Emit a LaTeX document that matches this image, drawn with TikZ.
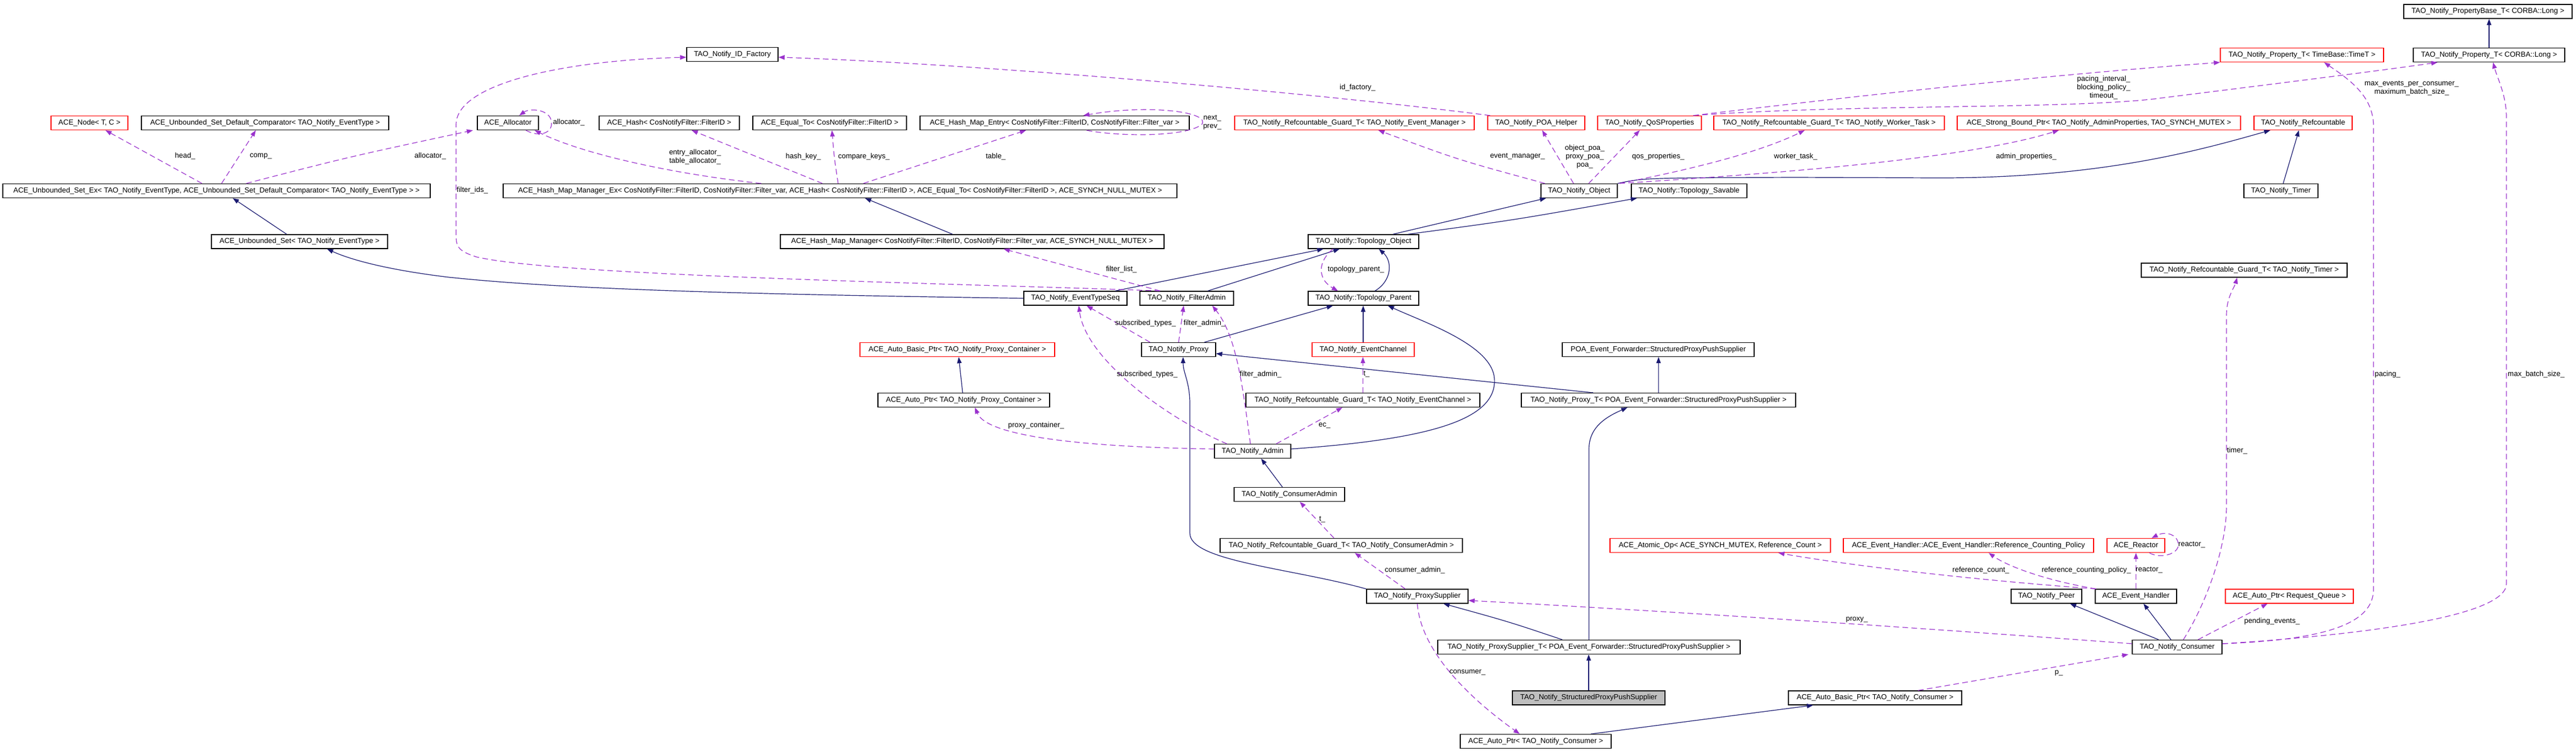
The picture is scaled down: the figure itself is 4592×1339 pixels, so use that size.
\documentclass[tikz,border=0pt]{standalone}
\usepackage{fontspec}
\setmainfont{Liberation Sans}
\usetikzlibrary{arrows.meta}
\definecolor{inhc}{HTML}{191970}
\definecolor{usec}{HTML}{9A32CD}
\definecolor{grayfill}{HTML}{BFBFBF}
\newcommand\nfont{\fontsize{13}{15}\selectfont}
\tikzset{
  box/.style={draw=black, line width=1.3pt, fill=white, minimum height=25pt, inner xsep=2pt, inner ysep=0pt, font=\nfont},
  rbox/.style={box, draw=red},
  inh/.style={draw=inhc, line width=1.2pt, -{Triangle[length=11pt,width=8pt]}},
  use/.style={draw=usec, line width=1.2pt, dash pattern=on 10pt off 6pt, -{Triangle[length=11pt,width=8pt]}},
  lab/.style={font=\nfont, inner sep=0pt, align=center}
}
\begin{document}
\begin{tikzpicture}[x=1pt,y=-1pt]
\useasboundingbox (0,0) rectangle (4592,1339);
\fill[white] (0,0) rectangle (4592,1339);
% nodes
\node[box, minimum width=300pt] (pb) at (4435,20.5) {TAO\_Notify\_PropertyBase\_T< CORBA::Long >};
\node[box, minimum width=163pt] (idf) at (1305.5,97) {TAO\_Notify\_ID\_Factory};
\node[rbox, minimum width=291pt] (ptt) at (4103.5,98) {TAO\_Notify\_Property\_T< TimeBase::TimeT >};
\node[box, minimum width=270pt] (ptl) at (4437,98) {TAO\_Notify\_Property\_T< CORBA::Long >};
\node[rbox, minimum width=137pt] (acenode) at (159.5,219) {ACE\_Node< T, C >};
\node[box, minimum width=441pt] (cmp) at (472.5,219) {ACE\_Unbounded\_Set\_Default\_Comparator< TAO\_Notify\_EventType >};
\node[box, minimum width=109pt] (alloc) at (905.5,219) {ACE\_Allocator};
\node[box, minimum width=250pt] (hash) at (1193,219) {ACE\_Hash< CosNotifyFilter::FilterID >};
\node[box, minimum width=274pt] (eq) at (1479,219) {ACE\_Equal\_To< CosNotifyFilter::FilterID >};
\node[box, minimum width=480pt] (entry) at (1880,219) {ACE\_Hash\_Map\_Entry< CosNotifyFilter::FilterID, CosNotifyFilter::Filter\_var >};
\node[rbox, minimum width=427pt] (gem) at (2414.5,219) {TAO\_Notify\_Refcountable\_Guard\_T< TAO\_Notify\_Event\_Manager >};
\node[rbox, minimum width=173pt] (poa) at (2738.5,219) {TAO\_Notify\_POA\_Helper};
\node[rbox, minimum width=185pt] (qos) at (2940.5,219) {TAO\_Notify\_QoSProperties};
\node[rbox, minimum width=411pt] (gwt) at (3260.5,219) {TAO\_Notify\_Refcountable\_Guard\_T< TAO\_Notify\_Worker\_Task >};
\node[rbox, minimum width=505pt] (sbp) at (3741.5,219) {ACE\_Strong\_Bound\_Ptr< TAO\_Notify\_AdminProperties, TAO\_SYNCH\_MUTEX >};
\node[rbox, minimum width=175pt] (rc) at (4105.5,219) {TAO\_Notify\_Refcountable};
\node[box, minimum width=762pt] (usex) at (386,340) {ACE\_Unbounded\_Set\_Ex< TAO\_Notify\_EventType, ACE\_Unbounded\_Set\_Default\_Comparator< TAO\_Notify\_EventType > >};
\node[box, minimum width=1201pt] (hmmex) at (1497.5,340) {ACE\_Hash\_Map\_Manager\_Ex< CosNotifyFilter::FilterID, CosNotifyFilter::Filter\_var, ACE\_Hash< CosNotifyFilter::FilterID >, ACE\_Equal\_To< CosNotifyFilter::FilterID >, ACE\_SYNCH\_NULL\_MUTEX >};
\node[box, minimum width=136pt] (obj) at (2815,340) {TAO\_Notify\_Object};
\node[box, minimum width=206pt] (sav) at (3011,340) {TAO\_Notify::Topology\_Savable};
\node[box, minimum width=132pt] (timer) at (4066,340) {TAO\_Notify\_Timer};
\node[box, minimum width=314pt] (us) at (534,430.5) {ACE\_Unbounded\_Set< TAO\_Notify\_EventType >};
\node[box, minimum width=684pt] (hmm) at (1733,430.5) {ACE\_Hash\_Map\_Manager< CosNotifyFilter::FilterID, CosNotifyFilter::Filter\_var, ACE\_SYNCH\_NULL\_MUTEX >};
\node[box, minimum width=197pt] (tobj) at (2430.5,430.5) {TAO\_Notify::Topology\_Object};
\node[box, minimum width=367pt] (gtimer) at (4000.5,481.5) {TAO\_Notify\_Refcountable\_Guard\_T< TAO\_Notify\_Timer >};
\node[box, minimum width=184pt] (ets) at (1917,531.5) {TAO\_Notify\_EventTypeSeq};
\node[box, minimum width=167pt] (fa) at (2115.5,531.5) {TAO\_Notify\_FilterAdmin};
\node[box, minimum width=197pt] (tpar) at (2430.5,531.5) {TAO\_Notify::Topology\_Parent};
\node[rbox, minimum width=347pt] (abpc) at (1706.5,623) {ACE\_Auto\_Basic\_Ptr< TAO\_Notify\_Proxy\_Container >};
\node[box, minimum width=132pt] (proxy) at (2101,623) {TAO\_Notify\_Proxy};
\node[rbox, minimum width=182pt] (ec) at (2430,623) {TAO\_Notify\_EventChannel};
\node[box, minimum width=342pt] (poafw) at (2956,623) {POA\_Event\_Forwarder::StructuredProxyPushSupplier};
\node[box, minimum width=306pt] (apc) at (1718,713) {ACE\_Auto\_Ptr< TAO\_Notify\_Proxy\_Container >};
\node[box, minimum width=417pt] (gec) at (2429.5,713) {TAO\_Notify\_Refcountable\_Guard\_T< TAO\_Notify\_EventChannel >};
\node[box, minimum width=489pt] (pxt) at (2956.5,713) {TAO\_Notify\_Proxy\_T< POA\_Event\_Forwarder::StructuredProxyPushSupplier >};
\node[box, minimum width=136pt] (admin) at (2233,804) {TAO\_Notify\_Admin};
\node[box, minimum width=197pt] (cadmin) at (2298.5,881) {TAO\_Notify\_ConsumerAdmin};
\node[box, minimum width=432pt] (gca) at (2391,972) {TAO\_Notify\_Refcountable\_Guard\_T< TAO\_Notify\_ConsumerAdmin >};
\node[rbox, minimum width=393pt] (atom) at (3066.5,972) {ACE\_Atomic\_Op< ACE\_SYNCH\_MUTEX, Reference\_Count >};
\node[rbox, minimum width=446pt] (rcp) at (3509,972) {ACE\_Event\_Handler::ACE\_Event\_Handler::Reference\_Counting\_Policy};
\node[rbox, minimum width=103pt] (reactor) at (3807.5,972) {ACE\_Reactor};
\node[box, minimum width=181pt] (psup) at (2526.5,1062.5) {TAO\_Notify\_ProxySupplier};
\node[box, minimum width=126pt] (peer) at (3648,1062.5) {TAO\_Notify\_Peer};
\node[box, minimum width=145pt] (eh) at (3807.5,1062.5) {ACE\_Event\_Handler};
\node[rbox, minimum width=228pt] (arq) at (4081,1062.5) {ACE\_Auto\_Ptr< Request\_Queue >};
\node[box, minimum width=539pt] (pst) at (2832.5,1153) {TAO\_Notify\_ProxySupplier\_T< POA\_Event\_Forwarder::StructuredProxyPushSupplier >};
\node[box, minimum width=160pt] (cons) at (3881,1153) {TAO\_Notify\_Consumer};
\node[box, fill=grayfill, minimum width=272pt] (spps) at (2832,1243.5) {TAO\_Notify\_StructuredProxyPushSupplier};
\node[box, minimum width=309pt] (abpcons) at (3342.5,1243.5) {ACE\_Auto\_Basic\_Ptr< TAO\_Notify\_Consumer >};
\node[box, minimum width=269pt] (apcons) at (2737.5,1321) {ACE\_Auto\_Ptr< TAO\_Notify\_Consumer >};
% inheritance
\draw[inh] ([xshift=-23pt]us.north) -- ([xshift=29pt]usex.south);
\draw[inh] (ets.west) .. controls (1300,524) and (1000,515) .. (800,494) .. controls (700,482) and (630,465) .. ([xshift=49pt]us.south);
\draw[inh] ([xshift=-35pt]hmm.north) -- ([xshift=44.5pt]hmmex.south);
\draw[inh] ([xshift=71pt]ets.north) -- ([xshift=-71.5pt]tobj.south);
\draw[inh] ([xshift=37.5pt]fa.north) -- ([xshift=-42.5pt]tobj.south);
\draw[inh] ([xshift=52.5pt]tobj.north) -- ([xshift=-59pt]obj.south);
\draw[inh] ([xshift=79.5pt]tobj.north) .. controls (2700,392) .. ([xshift=-93pt]sav.south);
\draw[inh] ([xshift=20.5pt]tpar.north) .. controls (2482,500) and (2482,465) .. ([xshift=27.5pt]tobj.south);
\draw[inh] ([xshift=46pt]proxy.north) -- ([xshift=-54.5pt]tpar.south);
\draw[inh] (ec.north) -- (ec.north |- tpar.south);
\draw[inh] ([yshift=4pt]admin.east) .. controls (2560,782) and (2668,745) .. (2664,675) .. controls (2660,615) and (2540,575) .. ([xshift=43.5pt]tpar.south);
\draw[inh] ([xshift=-116.5pt]pxt.north) -- ([yshift=-7pt]proxy.east);
\draw[inh] (pxt.north) -- (pxt.north |- poafw.south);
\draw[inh] ([xshift=-2pt]apc.north) -- ([xshift=2.5pt]abpc.south);
\draw[inh] ([xshift=-12.5pt]cadmin.north) -- ([xshift=15pt]admin.south);
\draw[inh] (psup.north west) .. controls (2300,1012) and (2121,1000) .. (2121,950) -- (2121,720) .. controls (2121,680) and (2109,665) .. ([xshift=8pt]proxy.south);
\draw[inh] ([xshift=-47.5pt]pst.north) .. controls (2690,1108) .. ([xshift=46.5pt]psup.south);
\draw[inh] (pst.north) -- (2832.5,800) .. controls (2832.5,760) and (2865,742) .. ([xshift=-55.5pt]pxt.south);
\draw[inh] (spps.north) -- (spps.north |- pst.south);
\draw[inh] ([xshift=98.5pt]apcons.north) -- ([xshift=-110.5pt]abpcons.south);
\draw[inh] ([xshift=-33pt]cons.north) -- ([xshift=42pt]peer.south);
\draw[inh] ([xshift=-11pt]cons.north) -- ([xshift=13.5pt]eh.south);
\draw[inh] (obj.north east) .. controls (2930,317) .. (3200,316) -- (3450,317) .. controls (3750,318) and (3930,265) .. ([xshift=-58.5pt]rc.south);
\draw[inh] ([xshift=4pt]timer.north) -- ([xshift=-7.5pt]rc.south);
\draw[inh] (ptl.north) -- (ptl.north |- pb.south);
% usage
\draw[use] ([xshift=-26pt]usex.north) -- ([xshift=28.5pt]acenode.south);
\node[lab] (l1) at (330,278) {head\_};
\draw[use] ([xshift=9pt]usex.north) -- ([xshift=-16.5pt]cmp.south);
\node[lab] (l2) at (465,278) {comp\_};
\draw[use] ([xshift=53pt]usex.north) .. controls (620,280) .. ([xshift=-62.5pt]alloc.south);
\node[lab] (l3) at (767,278) {allocator\_};
\draw[use] ([xshift=-140.5pt]hmmex.north) .. controls (1200,310) and (1040,275) .. ([xshift=47.5pt]alloc.south);
\node[lab] (l4) at (1239,279.5) {entry\_allocator\_\\table\_allocator\_};
\draw[use] ([xshift=32pt]alloc.south) .. controls (960,245) and (985,238) .. (983,218) .. controls (982,195) and (945,192) .. ([xshift=20pt]alloc.north);
\node[lab] (l5) at (1014,218) {allocator\_};
\draw[use] ([xshift=-31.5pt]hmmex.north) -- ([xshift=40pt]hash.south);
\node[lab] (l6) at (1432,279) {hash\_key\_};
\draw[use] ([xshift=-3.5pt]hmmex.north) .. controls (1487,280) .. ([xshift=4pt]eq.south);
\node[lab] (l7) at (1540,279) {compare\_keys\_};
\draw[use] ([xshift=41.5pt]hmmex.north) -- ([xshift=-51pt]entry.south);
\node[lab] (l8) at (1775,279) {table\_};
\draw[use] ([xshift=57pt]entry.south) .. controls (1990,243) and (2112,245) .. (2142,222) .. controls (2160,200) and (2050,185) .. ([xshift=51pt]entry.north);
\node[lab] (l9) at (2161,218.5) {next\_\\prev\_};
\draw[use] ([xshift=-61pt]obj.north) .. controls (2600,285) .. ([xshift=42.5pt]gem.south);
\node[lab] (l10) at (2705,279) {event\_manager\_};
\draw[use] ([xshift=-10pt]obj.north) -- ([xshift=10.5pt]poa.south);
\node[lab] (l11) at (2825,279) {object\_poa\_\\proxy\_poa\_\\poa\_};
\draw[use] ([xshift=17pt]obj.north) -- ([xshift=-17.5pt]qos.south);
\node[lab] (l12) at (2956,279) {qos\_properties\_};
\draw[use] ([xshift=3pt]obj.north east) .. controls (3050,295) and (3150,265) .. ([xshift=-43.5pt]gwt.south);
\node[lab] (l13) at (3201,279) {worker\_task\_};
\draw[use] ([xshift=3pt]obj.north east) .. controls (3150,310) and (3500,285) .. ([xshift=-71.5pt]sbp.south);
\node[lab] (l14) at (3612,279) {admin\_properties\_};
\draw[use] ([xshift=5pt]poa.north west) .. controls (2300,160) and (1700,112) .. ([yshift=-5pt]idf.east);
\node[lab] (l15) at (2420,156) {id\_factory\_};
\draw[use] ([xshift=-47.5pt]fa.north) .. controls (1700,505) and (1000,492) .. (850,458) .. controls (818,448) and (813,440) .. (813,420) -- (813,222) .. controls (813,150) and (1000,108) .. ([yshift=-5pt]idf.west);
\node[lab] (l16) at (842,339) {filter\_ids\_};
\draw[use] ([xshift=-47.5pt]fa.north) -- ([xshift=56pt]hmm.south);
\node[lab] (l17) at (1999,480) {filter\_list\_};
\draw[use] ([xshift=-54.5pt]tobj.south) .. controls (2345,470) and (2352,500) .. ([xshift=-45.5pt]tpar.north);
\node[lab] (l18) at (2417,480) {topology\_parent\_};
\draw[use] ([xshift=-51pt]proxy.north) -- ([xshift=20pt]ets.south);
\node[lab] (l19) at (2042,576) {subscribed\_types\_};
\draw[use] (proxy.north) -- ([xshift=-5.5pt]fa.south);
\node[lab] (l20) at (2147,576) {filter\_admin\_};
\draw[use] ([xshift=-46pt]admin.north) .. controls (2080,745) and (1935,640) .. ([xshift=6pt]ets.south);
\node[lab] (l21) at (2045,667) {subscribed\_types\_};
\draw[use] ([xshift=-4pt]admin.north) .. controls (2215,690) and (2205,600) .. ([xshift=45.5pt]fa.south);
\node[lab] (l22) at (2247,667) {filter\_admin\_};
\draw[use] ([yshift=4pt]admin.west) .. controls (1950,797) and (1760,780) .. ([xshift=20pt]apc.south);
\node[lab] (l23) at (1847,758) {proxy\_container\_};
\draw[use] ([xshift=42pt]admin.north) -- ([xshift=-36.5pt]gec.south);
\node[lab] (l24) at (2361,758) {ec\_};
\draw[use] (gec.north) -- (gec.north |- ec.south);
\node[lab] (l25) at (2436,667) {t\_};
\draw[use] ([xshift=-13pt]gca.north) -- ([xshift=18.5pt]cadmin.south);
\node[lab] (l26) at (2357,926) {t\_};
\draw[use] ([xshift=-21.5pt]psup.north) -- ([xshift=24pt]gca.south);
\node[lab] (l27) at (2522,1016) {consumer\_admin\_};
\draw[use] (psup.south) .. controls (2532,1150) and (2600,1230) .. ([xshift=-28.5pt]apcons.north);
\node[lab] (l28) at (2616,1198) {consumer\_};
\draw[use] ([yshift=6pt]cons.west) .. controls (3300,1110) and (2900,1085) .. ([yshift=-7.5pt]psup.east);
\node[lab] (l29) at (3310,1104) {proxy\_};
\draw[use] ([xshift=76.5pt]abpcons.north) -- ([xshift=-87pt]cons.south);
\node[lab] (l30) at (3670,1199) {p\_};
\draw[use] ([xshift=2pt]eh.north west) .. controls (3500,1032) and (3280,1005) .. ([xshift=103.5pt]atom.south);
\node[lab] (l31) at (3531,1016) {reference\_count\_};
\draw[use] ([xshift=2pt]eh.north west) .. controls (3650,1035) and (3580,1010) .. ([xshift=36pt]rcp.south);
\node[lab] (l32) at (3719,1016) {reference\_counting\_policy\_};
\draw[use] (eh.north) -- (eh.north |- reactor.south);
\node[lab] (l33) at (3831,1016) {reactor\_};
\draw[use] ([xshift=24pt]reactor.south) .. controls (3850,996) and (3884,988) .. (3883,970) .. controls (3882,952) and (3860,946) .. ([xshift=28pt]reactor.north);
\node[lab] (l34) at (3907,971) {reactor\_};
\draw[use] ([xshift=37pt]cons.north) -- ([xshift=-39pt]arq.south);
\node[lab] (l35) at (4050,1107) {pending\_events\_};
\draw[use] ([xshift=11pt]cons.north) .. controls (3930,1080) and (3969,980) .. (3969,900) -- (3969,560) .. controls (3969,530) and (3983,512) .. ([xshift=-12.5pt]gtimer.south);
\node[lab] (l36) at (3988,803) {timer\_};
\draw[use] ([yshift=6pt]cons.east) .. controls (4200,1132) and (4468,1100) .. (4468,1040) -- (4468,210) .. controls (4468,170) and (4452,140) .. ([xshift=7pt]ptl.south);
\node[lab] (l37) at (4521,667) {max\_batch\_size\_};
\draw[use] ([yshift=6pt]cons.east) .. controls (4150,1140) and (4231,1110) .. (4231,1050) -- (4231,225) .. controls (4231,170) and (4185,140) .. ([xshift=39.5pt]ptt.south);
\node[lab] (l38) at (4256,667) {pacing\_};
\draw[use] ([xshift=78pt]qos.north) .. controls (3400,160) and (3700,130) .. (ptt.south west);
\node[lab] (l39) at (3750,156.5) {pacing\_interval\_\\blocking\_policy\_\\timeout\_};
\draw[use] ([xshift=78pt]qos.north) .. controls (3300,185) and (3700,195) .. (3850,175) .. controls (4050,150) and (4250,125) .. ([xshift=-92pt]ptl.south);
\node[lab] (l40) at (4299,157) {max\_events\_per\_consumer\_\\maximum\_batch\_size\_};
\end{tikzpicture}
\end{document}
